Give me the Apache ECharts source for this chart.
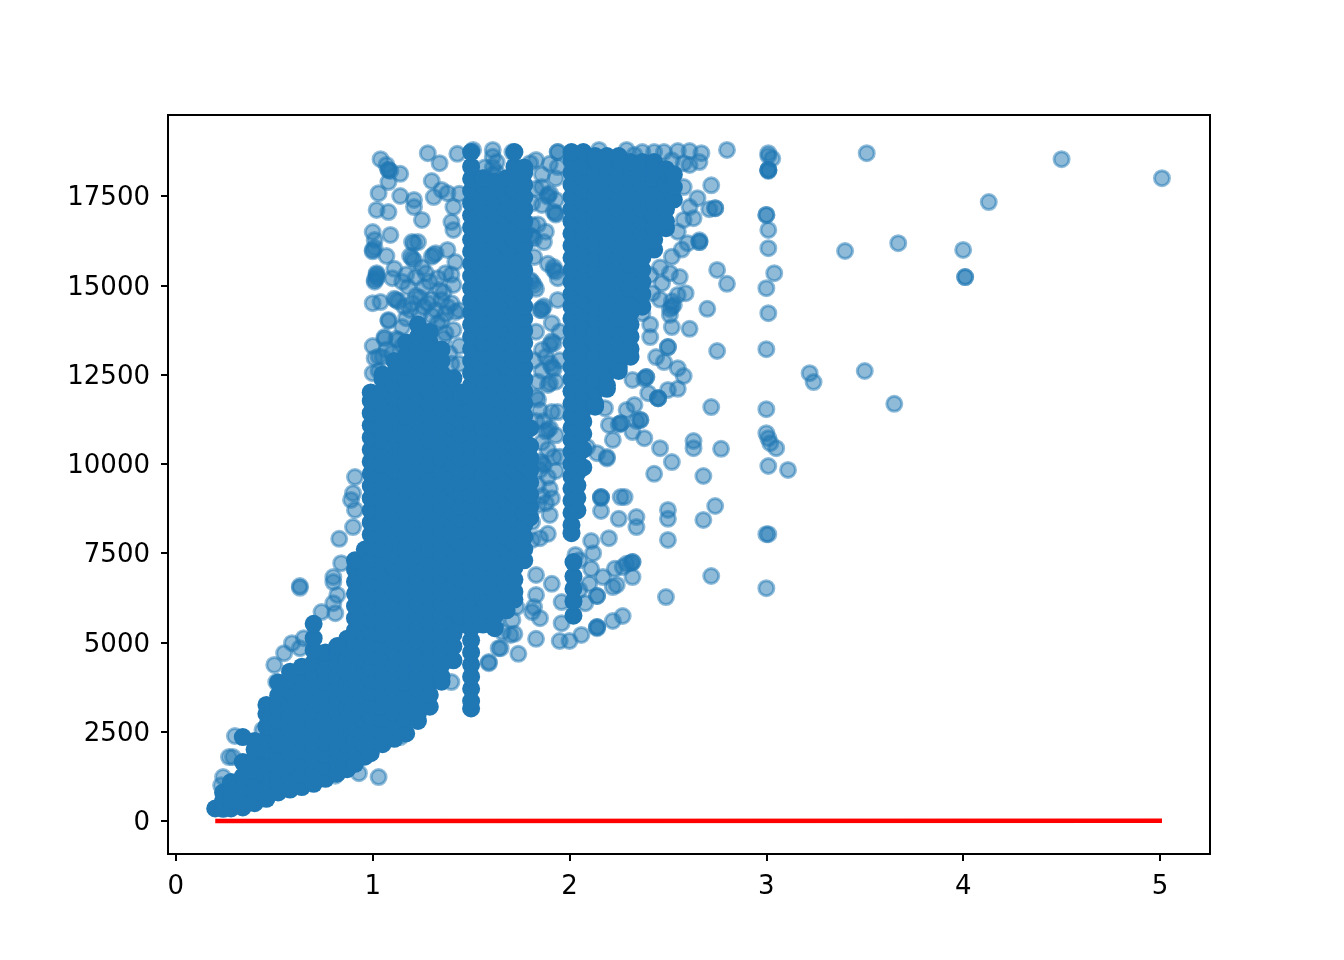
<!DOCTYPE html>
<html>
<head>
<meta charset="utf-8">
<style>html,body{margin:0;padding:0;background:#fff}#main{width:1344px;height:960px}</style>
<script src="https://cdn.jsdelivr.net/npm/echarts@6/dist/echarts.min.js"></script>
</head>
<body>
<div id="main"></div>
<script>
var xTicks = [0, 1, 2, 3, 4, 5];
var yTicks = [0, 2500, 5000, 7500, 10000, 12500, 15000, 17500];

// fit line
var fitLine = [[0.2, 0], [5.01, 5]];

// loose points, read one by one
var loosePoints = [
[5.01,18000],[4.5,18530],[4.13,17330],[4,15990],[4.01,15230],[4.01,15230],[3.67,16180],[3.4,15960],[3.51,18700],[3.5,12600],[3.65,11680],[3.22,12540],[3.24,12290],[3.11,9830],[3.05,10440],
[3.01,18700],[3.01,18620],[3.03,18550],[3.01,18230],[3.01,18230],[3.01,18230],[3.01,18200],[3,16970],[3,16970],[3.01,16550],[3.01,16040],[3.04,15340],[3,14920],[3.01,14220],[3,13210],[3,11530],[3,10860],[3.01,10720],[3.02,10580],[3.01,9940],[3.01,8030],[3,8030],[3,6520],
[2.8,18790],[2.67,18700],[2.66,18450],[2.61,18370],[2.58,18420],[2.72,17800],[2.65,17440],[2.74,17160],[2.74,17160],[2.71,17130],[2.61,17190],[2.63,16880],[2.58,17750],[2.58,16830],[2.66,16210],[2.66,16210],[2.66,16260],[2.6,16180],[2.75,15430],[2.8,15040],[2.7,14340],[2.61,13780],[2.52,13830],[2.41,13550],[2.5,13270],[2.5,13270],[2.75,13160],[2.44,12990],[2.48,12850],[2.55,12680],[2.58,12460],[2.39,12430],[2.39,12430],[2.38,12380],[2.32,12350],[2.55,12100],[2.5,12070],[2.45,11840],[2.45,11840],[2.45,11840],[2.4,11980],[2.72,11590],[2.33,11650],[2.29,11510],[2.18,11560],[2.36,11230],[2.36,11230],[2.34,11200],[2.26,11140],[2.26,11140],[2.25,11100],[2.2,11090],[2.32,10890],[2.38,10720],[2.22,10670],[2.46,10440],[2.63,10640],[2.63,10440],[2.77,10420],[2.52,10050],[2.43,9720],[2.68,9660],[2.19,10190],[2.19,10150],[2.14,10300],[2.09,10470],
[2.74,8820],[2.68,8430],[2.5,8710],[2.5,8460],[2.5,7870],[2.34,8510],[2.34,8230],[2.25,8460],[2.16,9070],[2.16,9070],[2.16,9040],[2.26,9070],[2.28,9070],[2.16,8680],[2.2,7920],[2.11,7840],[2.12,7500],[2.03,7450],[2.05,7300],[2.32,7250],[2.32,7250],[2.31,7220],[2.29,7200],[2.27,7110],[2.23,7060],[2.11,7060],[2.32,6830],[2.17,6830],[2.24,6610],[2.22,6550],[2.1,6640],[2.14,6300],[2.14,6300],[2.05,6470],[2.08,6100],[1.96,6130],[1.96,5540],[2.27,5740],[2.22,5600],[2.14,5430],[2.14,5430],[2.14,5400],[2.06,5210],[2,5040],[1.95,5040],[2.49,6270],[2.72,6860],
[1.83,6890],[1.91,6640],[1.83,6330],[1.82,5990],[1.81,5850],[1.85,5680],[1.83,5100],[1.74,4680],[1.64,4840],[1.59,4450],[1.72,5240],[1.7,5210],[1.66,5290],[1.71,5630],[1.63,5570],[1.73,5990],[1.89,8040],[1.85,7920],[1.81,7870],[1.9,8570],[1.91,9040],[1.84,8850],[1.81,8370],[1.4,3890],
[1.03,1230],[0.63,6580],[0.63,6530],[0.91,8710],[0.9,9180],[0.89,8990],[0.91,9630],[0.9,8230],[0.83,7900],[0.84,7220],[0.8,6830],[0.8,6690],[0.82,6330],[0.8,6100],[0.74,5850],[0.81,5820],[0.59,4980],[0.55,4700],[0.5,4370],[0.51,3890],[0.63,4840],[0.65,5120],[0.44,2550],[0.3,2380],[0.29,1790],[0.27,1790],[0.24,1230],[0.23,1000],[0.93,1340],[0.81,1270],[1.14,2350],[1.59,4420],[1.65,4840],
[1.04,18530],[1.08,18230],[1.08,18230],[1.09,18200],[1.07,18370],[1.08,17890],[1.14,18120],[1.03,17580],[1.14,17500],[1.02,17110],[1.08,17050],[1.21,17390],[1.21,17190],[1.25,16830],[1.28,18700],[1.34,18420],[1.43,18680],[1.3,17920],[1.35,17670],[1.38,17580],[1.31,17470],[1.41,17190],[1.44,17560],[1.4,16770],[1.41,16550],[1,16490],[1.01,16270],[1,15990],[1.01,16050],[1,15950],[1.09,16410],[1.2,16210],[1.21,16180],[1.23,16210],[1.31,15850],[1.32,15900],[1.3,15800],[1.38,15990],[1.42,15650],[1.2,15760],[1.21,15700],[1.19,15820],[1.07,15820],[1.02,15340],[1.02,15300],[1.02,15250],[1.01,15150],[1.01,15100],[1.02,15200],[1.11,15460],[1.1,15200],[1,14500],[1.04,14530],[1.12,14590],[1.13,14550],[1.11,14620],[1.08,14030],[1.08,14000],[1.06,13550],[1.06,13500],[1.13,13470],[1,13300],[1.01,12960],[1,12540],[1.05,12990],
[1.27,15340],[1.37,15340],[1.41,15010],[1.18,14950],[1.26,14950],[1.22,15230],[1.34,14870],[1.35,14590],[1.19,14310],[1.26,14390],[1.32,14310],[1.42,14250],[1.37,14200],[1.41,13750],[1.37,13660],[1.15,13830],[1.33,13940],[1.17,14080],[1.39,13100],[1.3,14600],[1.24,14650],[1.4,14500],[1.29,15100],
[1.16,14400],[1.2,14500],[1.24,14200],[1.28,14500],[1.3,14150],[1.35,14000],[1.38,14400],[1.22,14700],[1.33,15200],[1.25,15500],[1.15,15100],[1.17,15300],[1.4,15300],[1.36,14800],[1.44,14300],[1.44,13300],[1.44,12800],[1.4,12800],[1.36,13500],[1.12,13500],[1.1,13100],[1.15,13300],[1.03,13000],[1.03,12600],[1.07,13200],
[1.83,18510],[1.8,18420],[1.94,18730],[1.94,18310],[1.93,18000],[1.86,17750],[1.89,17530],[1.89,17480],[1.9,17580],[1.93,17390],[1.93,17020],[1.93,16980],[1.92,17060],[1.86,17250],[1.81,17300],[1.81,16690],[1.81,16350],[1.82,16300],[1.8,16400],[1.87,16210],[1.82,15790],[1.89,15600],[1.92,15430],[1.92,15510],[1.93,15380],[1.94,15200],[1.81,15090],[1.82,15000],[1.8,15150],[1.94,14590],[1.86,14360],[1.86,14300],[1.87,14410],[1.85,14310],[1.91,13940],[1.92,13380],[1.91,13430],[1.9,13330],[1.86,13190],[1.91,12710],[1.9,12820],[1.92,12660],[1.9,12260],[1.89,12210],[1.83,11870],[1.84,11800],[1.89,10950],[1.88,10900],[1.9,11000],[1.94,11450],[1.91,11450],[1.86,10020],[1.85,10070],[1.87,9970],[1.89,9630],[1.92,10190],[1.85,9830],[1.83,14900],[1.83,13700],[1.82,12900],[1.84,12300],[1.83,11200],
[1.86,12600],[1.88,13000],[1.93,12300],[1.85,11500],[1.87,11200],[1.93,10800],[1.86,10600],[1.89,10400],[1.93,9800],[1.9,9300],[1.84,9400],[1.86,9100],[1.88,8900],[1.95,12900],[1.95,13700],[1.95,10200],[1.84,16700],[1.88,16500],[1.83,17700],[1.86,18100],[1.9,18400],
[2.41,15290],[2.51,15340],[2.56,15230],[2.59,14780],[2.55,14730],[2.52,14390],[2.51,14330],[2.53,14450],[2.51,14170],[2.42,14780],[2.47,15060],[2.37,14220],[2.52,14550],[2.46,15500],[2.52,15800],[2.46,14600],[2.57,16000],[2.55,16500],[2.41,13900],
[1.51,18790],[1.71,18730],[1.61,18790],[1.61,18600],[1.61,18300],[1.61,18100],[1.57,18300],[1.57,18000],[1.63,18450],[1.63,18150],
[1.94,18730],[2.29,18790],[2.15,18790],[2.37,18730],[2.43,18730],[2.48,18730],[2.55,18760],[2.61,18760],[2.33,18650],[2.52,18500]
];

// solid part of the cloud, x of each column and the y values in it
var coreX = [0.2,0.24,0.28,0.34,0.4,0.46,0.52,0.58,0.64,0.7,0.76,0.82,0.87,0.91,0.96,0.99,1.05,1.11,1.17,1.23,1.29,1.35,1.41,1.45,1.5,1.56,1.62,1.68,1.72,1.77,1.8,2.01,2.02,2.04,2.07,2.13,2.19,2.25,2.31,2.37,2.43,2.49,2.53];
var coreY = [
[350],
[340,560,800],
[350,600,850,1090],
[380,650,950,1250,1650,2350],
[500,800,1100,1400,1750,2000,2240],
[620,950,1280,1620,1960,2300,2640,3000,3250],
[800,1140,1480,1820,2160,2500,2840,3180,3520,3880],
[880,1220,1560,1900,2240,2580,2920,3260,3600,3940,4180],
[950,1290,1630,1970,2310,2650,2990,3330,3670,4010,4320],
[1040,1380,1720,2060,2400,2740,3080,3420,3760,4100,4440,4780,5120,5520],
[1180,1520,1860,2200,2540,2880,3220,3560,3900,4240,4580,4720],
[1330,1670,2010,2350,2690,3030,3370,3710,4050,4390,4730,4900],
[1450,1790,2130,2470,2810,3150,3490,3830,4170,4510,4850,5100],
[1600,1940,2280,2620,2960,3300,3640,3980,4320,4660,5000,5340,5680,6020,6360,6700,7040,7300],
[1800,2140,2480,2820,3160,3500,3840,4180,4520,4860,5200,5540,5880,6220,6560,6900,7240,7600],
[1900,2240,2580,2920,3260,3600,3940,4280,4620,4960,5300,5640,5980,6320,6660,7000,7340,7680,8020,8360,8700,9040,9380,9720,10060,10400,10740,11080,11420,11760,12000],
[2150,2510,2850,3190,3530,3870,4210,4550,4890,5230,5570,5910,6250,6590,6930,7270,7610,7950,8290,8630,8970,9310,9650,9990,10330,10670,11010,11350,11690,12030,12370,12500],
[2300,2680,3020,3360,3700,4040,4380,4720,5060,5400,5740,6080,6420,6760,7100,7440,7780,8120,8460,8800,9140,9480,9820,10160,10500,10840,11180,11520,11860,12200,12540,12880],
[2450,2850,3190,3530,3870,4210,4550,4890,5230,5570,5910,6250,6590,6930,7270,7610,7950,8290,8630,8970,9310,9650,9990,10330,10670,11010,11350,11690,12030,12370,12710,13050,13400],
[2800,3020,3360,3700,4040,4380,4720,5060,5400,5740,6080,6420,6760,7100,7440,7780,8120,8460,8800,9140,9480,9820,10160,10500,10840,11180,11520,11860,12200,12540,12880,13220,13560,13900],
[3200,3530,3870,4210,4550,4890,5230,5570,5910,6250,6590,6930,7270,7610,7950,8290,8630,8970,9310,9650,9990,10330,10670,11010,11350,11690,12030,12370,12710,13050,13390,13700],
[3900,4040,4380,4720,5060,5400,5740,6080,6420,6760,7100,7440,7780,8120,8460,8800,9140,9480,9820,10160,10500,10840,11180,11520,11860,12200,12540,12880,13200],
[4500,4890,5230,5570,5910,6250,6590,6930,7270,7610,7950,8290,8630,8970,9310,9650,9990,10330,10670,11010,11350,11690,12030,12400],
[5500,5740,6080,6420,6760,7100,7440,7780,8120,8460,8800,9140,9480,9820,10160,10500,10840,11180,11520,11860,12000],
[3150,3360,3700,4040,4380,4720,5060,5400,5740,6080,6420,6760,7100,7440,7780,8120,8460,8800,9140,9480,9820,10160,10500,10840,11180,11520,11860,12200,12540,12880,13220,13560,13900,14240,14580,14920,15260,15600,15940,16280,16620,16960,17300,17640,17980,18320,18730],
[5500,5910,6250,6590,6930,7270,7610,7950,8290,8630,8970,9310,9650,9990,10330,10670,11010,11350,11690,12030,12370,12710,13050,13390,13730,14070,14410,14750,15090,15430,15770,16110,16450,16790,17130,17470,17810,18000],
[5400,5740,6080,6420,6760,7100,7440,7780,8120,8460,8800,9140,9480,9820,10160,10500,10840,11180,11520,11860,12200,12540,12880,13220,13560,13900,14240,14580,14920,15260,15600,15940,16280,16620,16960,17300,17640,17900],
[5900,6250,6590,6930,7270,7610,7950,8290,8630,8970,9310,9650,9990,10330,10670,11010,11350,11690,12030,12370,12710,13050,13390,13730,14070,14410,14750,15090,15430,15770,16110,16450,16790,17130,17470,17810,18000],
[6200,6420,6760,7100,7440,7780,8120,8460,8800,9140,9480,9820,10160,10500,10840,11180,11520,11860,12200,12540,12880,13220,13560,13900,14240,14580,14920,15260,15600,15940,16280,16620,16960,17300,17640,17980,18320,18730],
[7300,7610,7950,8290,8630,8970,9310,9650,9990,10330,10670,11010,11350,11690,12030,12370,12710,13050,13390,13730,14070,14410,14750,15090,15430,15770,16110,16450,16790,17130,17470,17810,18150,18300],
[8500,8800,9140,9480,9820,10160,10500,11000],
[8060,8290,8630,8970,9310,9650,9990,10330,10670,11010,11350,11690,12030,12370,12710,13050,13390,13730,14070,14410,14750,15090,15430,15770,16110,16450,16790,17130,17470,17810,18150,18490,18730],
[5750,6150,6500,6850,7250],
[8700,9050,9400,9750,10100],
[9900,10400,10840,11180,11520,11860,12200,12540,12880,13220,13560,13900,14240,14580,14920,15260,15600,15940,16280,16620,16960,17300,17640,17980,18320,18730],
[11600,11690,12030,12370,12710,13050,13390,13730,14070,14410,14750,15090,15430,15770,16110,16450,16790,17130,17470,17810,18150,18490,18620],
[12100,12200,12540,12880,13220,13560,13900,14240,14580,14920,15260,15600,15940,16280,16620,16960,17300,17640,17980,18320,18620],
[12600,12710,13050,13390,13730,14070,14410,14750,15090,15430,15770,16110,16450,16790,17130,17470,17810,18150,18490,18620],
[13000,13220,13560,13900,14240,14580,14920,15260,15600,15940,16280,16620,16960,17300,17640,17980,18320,18450],
[14400,14750,15090,15430,15770,16110,16450,16790,17130,17470,17810,18150,18450],
[16000,16280,16620,16960,17300,17640,17980,18320,18450],
[16600,16790,17130,17470,17810,18150,18250],
[17400,17750,18100]
];

var corePoints = [];
for (var i = 0; i < coreX.length; i++) {
    for (var j = 0; j < coreY[i].length; j++) {
        corePoints.push([coreX[i], coreY[i][j]]);
    }
}

var chart = echarts.init(document.getElementById('main'), null, {renderer: 'canvas'});

var tickFont = {
    fontFamily: 'DejaVu Sans',
    fontSize: 26,
    color: '#000'
};

var option = {
    animation: false,
    backgroundColor: '#fff',
    grid: {
        left: 168,
        right: 134,
        top: 115,
        bottom: 106,
        show: true,
        borderColor: '#000',
        borderWidth: 2,
        backgroundColor: 'transparent'
    },
    xAxis: {
        type: 'value',
        min: -0.04,
        max: 5.254,
        splitLine: {show: false},
        axisLine: {show: false, onZero: false},
        axisTick: {show: true, length: 7, customValues: xTicks, lineStyle: {color: '#000', width: 2}},
        axisLabel: Object.assign({margin: 20, customValues: xTicks, formatter: function (v) { return String(v); }}, tickFont)
    },
    yAxis: {
        type: 'value',
        min: -924,
        max: 19768,
        splitLine: {show: false},
        axisLine: {show: false, onZero: false},
        axisTick: {show: true, length: 7, customValues: yTicks, lineStyle: {color: '#000', width: 2}},
        axisLabel: {
            margin: 18,
            customValues: yTicks,
            formatter: function (v) { return '{t|' + v + '}'; },
            rich: {t: Object.assign({padding: [5, 0, 0, 0]}, tickFont)}
        }
    },
    series: [
        {
            name: 'loose',
            type: 'scatter',
            data: loosePoints,
            symbolSize: 15,
            progressive: 0,
            z: 2,
            itemStyle: {opacity: 1, color: 'rgba(31,119,180,0.5)', borderColor: 'rgba(31,119,180,0.5)', borderWidth: 3}
        },
        {
            name: 'core',
            type: 'scatter',
            data: corePoints,
            symbolSize: 18,
            progressive: 0,
            z: 3,
            itemStyle: {opacity: 1, color: '#1f77b4'}
        },
        {
            name: 'fit',
            type: 'line',
            data: fitLine,
            showSymbol: false,
            z: 4,
            lineStyle: {color: '#ff0000', width: 4.5}
        }
    ]
};
chart.setOption(option);
</script>
</body>
</html>
